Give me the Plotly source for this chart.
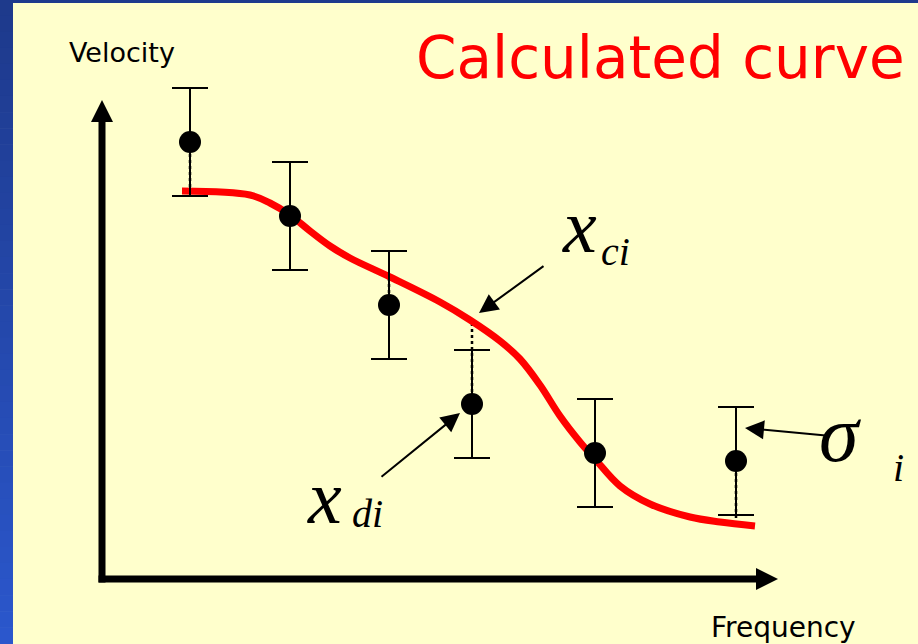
import numpy as np
import plotly.graph_objects as go

# Measured dispersion points (frequency, phase velocity) with their uncertainties
freq_obs = [0.88, 1.88, 2.87, 3.70, 4.93, 6.34]
vel_obs = [4.37, 3.63, 2.74, 1.75, 1.26, 1.18]
sigma_obs = [0.54, 0.54, 0.54, 0.54, 0.54, 0.54]

# Theoretical (calculated) dispersion curve
freq_calc = [0.80, 1.48, 1.68, 1.88, 2.08, 2.28, 2.48, 2.88, 3.38,
             3.68, 3.98, 4.18, 4.38, 4.58, 4.78, 4.93, 5.18, 5.48, 5.88, 6.18, 6.53]
vel_calc = [3.88, 3.84, 3.76, 3.64, 3.48, 3.33, 3.21, 3.02, 2.77,
            2.59, 2.38, 2.20, 1.94, 1.63, 1.37, 1.20, 0.93, 0.75, 0.62, 0.57, 0.53]

# Points whose residual to the curve is marked with a dotted segment
residual_idx = [0, 2, 3, 5]

X_RANGE = [-1.02, 8.16]
Y_RANGE = [-0.65, 5.79]
X_END = 6.76   # tip of the frequency arrow
Y_END = 4.79   # tip of the velocity arrow
HEAD = 0.22    # arrowhead length
HALF = 0.11    # arrowhead half width

BG = "#FFFFCC"

fig = go.Figure()

# residual segments between observation and calculated value
rx, ry = [], []
for i in residual_idx:
    f = freq_obs[i]
    vc = float(np.interp(f, freq_calc, vel_calc))
    rx += [f, f, None]
    ry += [vel_obs[i], vc, None]
fig.add_trace(go.Scatter(x=rx, y=ry, mode="lines",
                         line=dict(color="black", width=2.5, dash="dot"),
                         hoverinfo="skip", showlegend=False))

# calculated curve
fig.add_trace(go.Scatter(x=freq_calc, y=vel_calc, mode="lines",
                         line=dict(color="#FF0000", width=7, shape="spline", smoothing=1.0),
                         hoverinfo="skip", showlegend=False))

# observed data with error bars
fig.add_trace(go.Scatter(x=freq_obs, y=vel_obs, mode="markers",
                         marker=dict(color="black", size=22),
                         error_y=dict(type="data", array=sigma_obs, visible=True,
                                      color="black", thickness=2, width=18),
                         hoverinfo="skip", showlegend=False))

shapes = []
# blue slide frame: gradient strip on the left, thin band on top
n = 40
c0 = np.array([0x1E, 0x3A, 0x8C])
c1 = np.array([0x2B, 0x57, 0xCC])
for k in range(n):
    c = c0 + (c1 - c0) * (k / (n - 1))
    col = "rgb(%d,%d,%d)" % tuple(c.astype(int))
    shapes.append(dict(type="rect", xref="paper", yref="paper",
                       x0=0, x1=13 / 918, y0=1 - (k + 1) / n, y1=1 - k / n + 0.001,
                       fillcolor=col, line=dict(width=0), layer="above"))
shapes.append(dict(type="rect", xref="paper", yref="paper", x0=0, x1=1,
                   y0=1 - 3 / 644, y1=1, fillcolor="#1E3A8C", line=dict(width=0), layer="above"))

# axes drawn as thick arrows
shapes.append(dict(type="line", x0=0, y0=-0.035, x1=0, y1=Y_END - HEAD + 0.01,
                   line=dict(color="black", width=7)))
shapes.append(dict(type="line", x0=-0.035, y0=0, x1=X_END - HEAD + 0.01, y1=0,
                   line=dict(color="black", width=7)))
shapes.append(dict(type="path",
                   path=f"M {-HALF},{Y_END - HEAD} L {HALF},{Y_END - HEAD} L 0,{Y_END} Z",
                   fillcolor="black", line=dict(width=0)))
shapes.append(dict(type="path",
                   path=f"M {X_END - HEAD},{-HALF} L {X_END - HEAD},{HALF} L {X_END},0 Z",
                   fillcolor="black", line=dict(width=0)))

annotations = []


def pointer(x, y, ax, ay):
    annotations.append(dict(x=x, y=y, ax=ax, ay=ay, xref="x", yref="y",
                            axref="x", ayref="y", text="", showarrow=True,
                            arrowhead=2, arrowsize=1.9, arrowwidth=2,
                            arrowcolor="black"))


pointer(3.77, 2.66, 4.43, 3.14)   # to calculated value
pointer(3.58, 1.66, 2.78, 1.01)   # to observed value
pointer(6.43, 1.51, 7.28, 1.43)   # to error bar


def label(x, y, text, size, color="black", family="DejaVu Sans", xanchor="center"):
    annotations.append(dict(x=x, y=y, xref="x", yref="y", text=text,
                            showarrow=False, xanchor=xanchor, yanchor="middle",
                            font=dict(size=size, color=color, family=family)))


label(0.20, 5.27, "Velocity", 27)
label(6.81, -0.48, "Frequency", 28)
label(5.58, 5.21, "Calculated curve", 58, color="#FF0000")

serif = "Liberation Serif"
label(4.77, 3.53, "<i>x</i>", 76, family=serif)
label(5.13, 3.28, "<i>ci</i>", 40, family=serif)
label(2.22, 0.82, "<i>x</i>", 76, family=serif)
label(2.65, 0.66, "<i>di</i>", 40, family=serif)
label(7.38, 1.45, "<i>σ</i>", 80, family=serif)
label(7.96, 1.12, "<i>i</i>", 40, family=serif)

fig.update_layout(
    width=918, height=644,
    margin=dict(l=0, r=0, t=0, b=0),
    paper_bgcolor=BG, plot_bgcolor=BG,
    xaxis=dict(range=X_RANGE, visible=False, fixedrange=True),
    yaxis=dict(range=Y_RANGE, visible=False, fixedrange=True),
    shapes=shapes, annotations=annotations,
    showlegend=False,
)

fig.write_html("out.html")
